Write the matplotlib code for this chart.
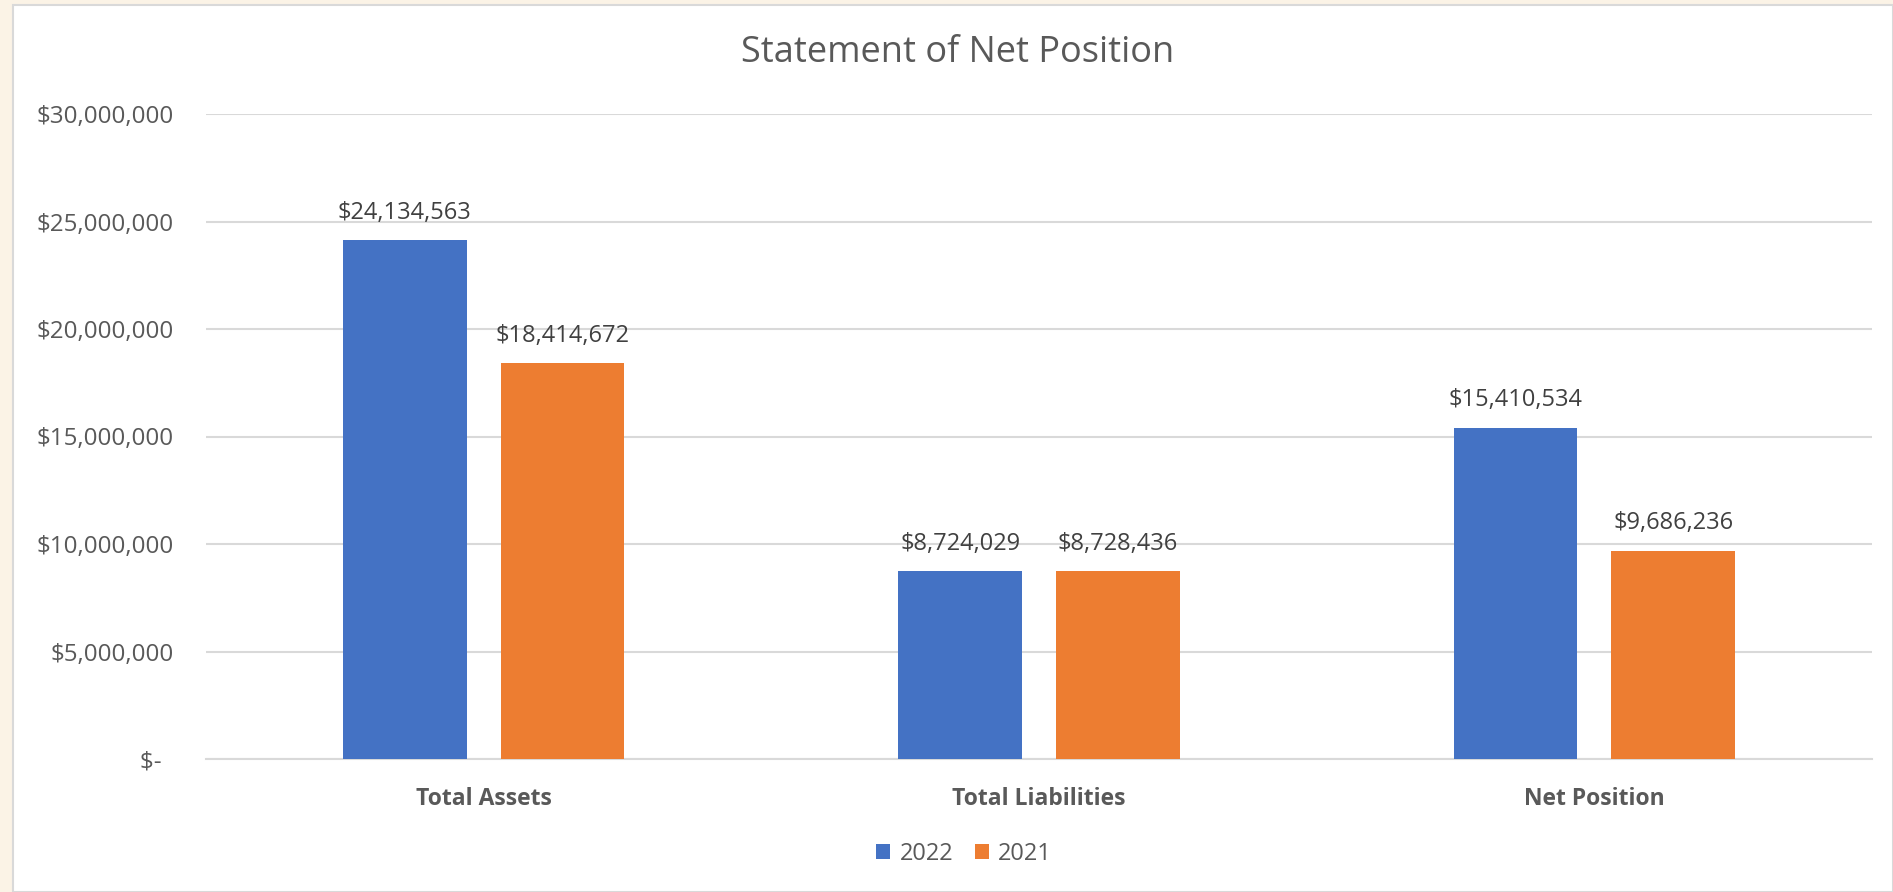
import matplotlib.pyplot as plt
from matplotlib.patches import Rectangle
import numpy as np

categories = ["Total Assets", "Total Liabilities", "Net Position"]
years = ["2022", "2021"]
values_2022 = [24134563, 8724029, 15410534]
values_2021 = [18414672, 8728436, 9686236]

blue = "#4472C4"
orange = "#ED7D31"
grey_text = "#595959"

plt.rcParams['font.family'] = ['Open Sans', 'DejaVu Sans']

W, H = 1893, 892
fig = plt.figure(figsize=(W / 100, H / 100), dpi=100)
fig.patch.set_facecolor("#FBF3E6")

# white chart card with thin grey border
card = Rectangle((13 / W, 0), 1 - 13 / W, 1 - 5 / H, transform=fig.transFigure,
                 facecolor="white", edgecolor="#D9D9D9", linewidth=1.5, zorder=-10)
fig.patches.append(card)

ax = fig.add_axes([206 / W, 133 / H, (1872 - 206) / W, (759 - 114) / H])
ax.set_facecolor("none")

x = np.arange(len(categories))
bw = 0.223
off = 0.142
b1 = ax.bar(x - off, values_2022, bw, color=blue, label=years[0], zorder=3)
b2 = ax.bar(x + off, values_2021, bw, color=orange, label=years[1], zorder=3)

for bars, vals in [(b1, values_2022), (b2, values_2021)]:
    for rect, v in zip(bars, vals):
        ax.annotate(f"${v:,.0f}", (rect.get_x() + rect.get_width() / 2, v),
                    xytext=(0, 11), textcoords="offset points",
                    ha="center", va="bottom", fontsize=17, color="#404040")

ax.set_xlim(-0.5, 2.5)
ax.set_ylim(0, 30000000)
yt = np.arange(0, 30000001, 5000000)
ax.set_yticks(yt)
ax.set_yticklabels(["$-  " if v == 0 else f"${v:,.0f}" for v in yt],
                   fontsize=17.4, color=grey_text)
ax.set_xticks(x)
ax.set_xticklabels(categories, fontsize=16.5, fontweight="bold", color=grey_text)
ax.tick_params(axis="both", length=0)
ax.tick_params(axis="y", pad=23)
ax.tick_params(axis="x", pad=20)

ax.grid(axis="y", color="#D9D9D9", linewidth=1.5, zorder=0)
for s in ["top", "right", "left"]:
    ax.spines[s].set_visible(False)
ax.spines["bottom"].set_color("#D9D9D9")
ax.spines["bottom"].set_linewidth(1.5)

fig.text(958 / W, 1 - 53 / H, "Statement of Net Position",
         ha="center", va="center", fontsize=26, color=grey_text)

fig.legend(loc="center", bbox_to_anchor=(964 / W, 1 - 854 / H), ncol=2, frameon=False,
           fontsize=17, handlelength=0.6, handleheight=0.6, handletextpad=0.4,
           columnspacing=0.9, labelcolor=grey_text)

fig.savefig("out.png", dpi=100, facecolor=fig.get_facecolor())
